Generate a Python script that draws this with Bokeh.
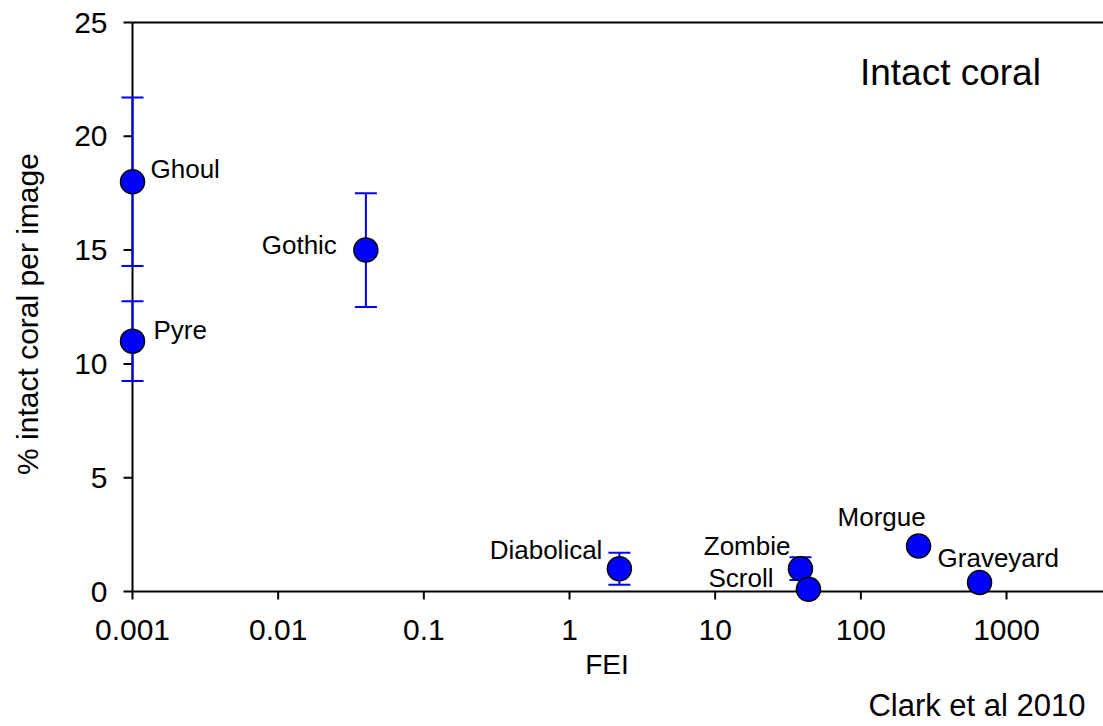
import math
from bokeh.plotting import figure
from bokeh.models import (ColumnDataSource, Whisker, TeeHead, FixedTicker,
                          CustomJSTickFormatter, Label, Range1d)
from bokeh.core.properties import value
from bokeh.embed import file_html
from bokeh.resources import INLINE

# ---------------- data ----------------
sites = ["Ghoul", "Pyre", "Gothic", "Diabolical", "Zombie", "Scroll", "Morgue", "Graveyard"]
fei = [0.001, 0.001, 0.040, 2.2, 38.5, 43.7, 249, 653]
intact = [18.0, 11.0, 15.0, 1.0, 1.0, 0.1, 2.0, 0.4]
err = [3.7, 1.75, 2.5, 0.7, 0.5, 0.0, 0.0, 0.0]
x_ticks = [0.001, 0.01, 0.1, 1, 10, 100, 1000]
y_ticks = [0, 5, 10, 15, 20, 25]

# ---------------- label placement (screen px) ----------------
label_dx = [18, 21, -29, -17, -10, -35, -81, -42]
label_dy = [-13, -11, -5, -19, -23, -11, -29, -24]
label_align = ["left", "left", "right", "right", "right", "right", "left", "left"]

FONT_NAME = "Liberation Sans"
FONT = value(FONT_NAME)
BLUE = "#0000FF"

# ranges (small pad so markers sitting on the axes are not clipped)
decade_px = 145.67
unit_px = 22.76
x_start = 10 ** (-3 - 22 / decade_px)
x_end = 10 ** (-3 + 971 / decade_px)
y_start = -18 / unit_px
y_end = 25 + 4 / unit_px

p = figure(width=1103, height=726, x_axis_type="log",
           x_range=Range1d(x_start, x_end), y_range=Range1d(y_start, y_end),
           output_backend="svg", toolbar_location=None,
           title="Clark et al 2010", title_location="below",
           min_border_left=110, min_border_right=0,
           min_border_top=18, min_border_bottom=117)
p.outline_line_color = None
p.background_fill_color = "white"
p.border_fill_color = "white"
p.xgrid.visible = False
p.ygrid.visible = False

p.title.align = "right"
p.title.offset = 18
p.title.standoff = 7
p.title.text_font = FONT_NAME
p.title.text_font_size = "31px"
p.title.text_font_style = "normal"
p.title.text_color = "black"

# library axes: only labels (lines/ticks drawn at the data origin below)
for ax in (p.xaxis, p.yaxis):
    ax.axis_line_color = None
    ax.major_tick_line_color = None
    ax.minor_tick_line_color = None
    ax.major_tick_in = 0
    ax.major_tick_out = 0
    ax.major_label_text_font = FONT_NAME
    ax.major_label_text_font_size = "30px"
    ax.major_label_text_color = "black"
    ax.axis_label_text_font = FONT_NAME
    ax.axis_label_text_font_style = "normal"
    ax.axis_label_text_color = "black"

p.xaxis.ticker = FixedTicker(ticks=x_ticks)
p.xaxis.formatter = CustomJSTickFormatter(code="return tick.toString();")
p.xaxis.major_label_standoff = 10
p.xaxis.axis_label = "FEI"
p.xaxis.axis_label_text_font_size = "28px"
p.xaxis.axis_label_standoff = 6

p.yaxis.ticker = FixedTicker(ticks=y_ticks)
p.yaxis.major_label_standoff = 3
p.yaxis.axis_label = "% intact coral per image"
p.yaxis.axis_label_text_font_size = "30px"
p.yaxis.axis_label_standoff = 27

# axis lines and frame top line at the data origin
x0, y0, y_top = x_ticks[0], y_ticks[0], y_ticks[-1]
p.segment(x0=[x0, x0, x0], y0=[y0, y0, y_top], x1=[x_end, x0, x_end], y1=[y0, y_top, y_top],
          line_color="black", line_width=2)
# tick marks
p.ray(x=x_ticks, y=[y0] * len(x_ticks), length=8, length_units="screen",
      angle=-math.pi / 2, line_color="black", line_width=2)
p.ray(x=[x0] * len(y_ticks), y=y_ticks, length=9, length_units="screen",
      angle=math.pi, line_color="black", line_width=2)

# error bars
idx = [i for i, e in enumerate(err) if e > 0]
err_src = ColumnDataSource(dict(
    x=[fei[i] for i in idx],
    lower=[intact[i] - err[i] for i in idx],
    upper=[intact[i] + err[i] for i in idx],
))
w = Whisker(base="x", lower="lower", upper="upper", source=err_src,
            dimension="height", line_color=BLUE, line_width=2, level="annotation",
            upper_head=TeeHead(size=22, line_color=BLUE, line_width=2),
            lower_head=TeeHead(size=22, line_color=BLUE, line_width=2))
p.add_layout(w)

# points
src = ColumnDataSource(dict(x=fei, y=intact, name=sites,
                            dx=label_dx, dy=label_dy, align=label_align))
p.scatter("x", "y", source=src, size=24, fill_color=BLUE, line_color="black",
          line_width=1.5, level="overlay")
p.text("x", "y", text="name", source=src, x_offset="dx", y_offset="dy",
       text_align="align", text_baseline="middle", text_font=FONT,
       text_font_size="26px", text_color="black")

# panel title inside the plot
p.add_layout(Label(x=412, y=22.8, text="Intact coral", text_align="center",
                   text_baseline="middle", text_font=FONT_NAME,
                   text_font_size="37px", text_color="black"))

open("out.html", "w").write(file_html(p, INLINE))
